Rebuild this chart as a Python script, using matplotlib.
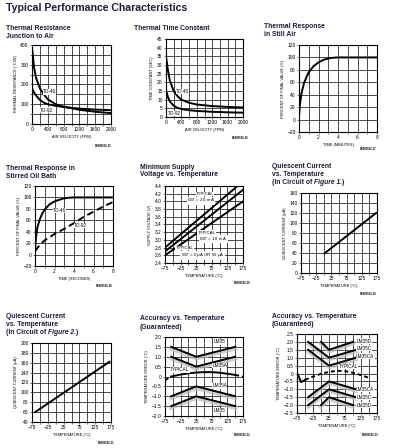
import matplotlib
matplotlib.use('Agg')
import matplotlib.pyplot as plt
import numpy as np

plt.rcParams['font.family'] = ['Liberation Sans', 'DejaVu Sans']
plt.rcParams['axes.unicode_minus'] = True

# ---------------- data ----------------
tr_air = [0, 50, 100, 200, 300, 400, 600, 800, 1000, 1200, 1600, 2000]
tr_to46 = [390, 290, 235, 180, 150, 125, 100, 88, 80, 72, 62, 55]
tr_to92 = [180, 160, 145, 122, 108, 100, 92, 86, 82, 78, 73, 70]

tc_air = [0, 50, 100, 200, 300, 400, 600, 800, 1200, 1600, 2000]
tc_to46 = [35, 27, 21, 15, 12, 10, 8.2, 7.2, 6.3, 5.8, 5.5]
tc_to92 = [15.5, 11.5, 9, 6.5, 5.3, 4.6, 3.9, 3.5, 3.0, 2.7, 2.5]

sa_time = [0, 0.1, 0.25, 0.5, 0.75, 1, 1.5, 2, 2.5, 3, 3.5, 4, 8]
sa_pct = [5, 25, 42, 58, 68, 76, 86, 92, 96, 98.5, 99.5, 100, 100]

ob_time46 = [0, 0.1, 0.25, 0.5, 0.75, 1, 1.5, 2, 2.5, 3, 3.5, 4, 8]
ob_to46 = [8, 30, 48, 62, 72, 79, 88, 93, 96, 98.5, 99.5, 100, 100]
ob_time92 = [0, 0.5, 1, 2, 3, 4, 5, 6, 7, 8]
ob_to92 = [6, 17, 25, 36, 45, 55, 66, 75, 84, 92]

ms_temp = [-75, 175]
ms_2ma = [2.8, 4.52]
ms_1ma = [2.7, 4.3]
ms_0ua = [2.6, 4.0]

qc1_temp = [2, 172]
qc1_ua = [39, 120]

qc2_temp = [-65, 170]
qc2_ua = [60, 162]

acc_temp = [-55, 25, 150]
lm35_up = [1.5, 1.0, 1.5]
lm35a_up = [1.0, 0.5, 1.0]
lm35a_lo = [-1.0, -0.5, -1.0]
lm35_lo = [-1.5, -1.0, -1.5]
typ35_temp = [-55, -25, 0, 25, 50, 75, 100, 125, 150]
typ35_err = [0.0, 0.1, 0.16, 0.2, 0.22, 0.22, 0.19, 0.14, 0.08]
typ35_ext_l_temp = [-75, -55]
typ35_ext_l_err = [-0.18, 0.0]
typ35_ext_r_temp = [150, 175]
typ35_ext_r_err = [0.08, 0.0]

lm35d_temp = [0, 25, 100]
lm35d_up = [2.0, 1.5, 2.0]
lm35d_lo = [-2.0, -1.5, -2.0]
lm35c_temp = [-40, 25, 110]
lm35c_up = [2.0, 1.0, 1.5]
lm35c_lo = [-2.0, -1.0, -1.5]
lm35ca_up = [1.5, 0.5, 1.0]
lm35ca_lo = [-1.5, -0.5, -1.0]
typc_v_temp = [-75, -62, -50]
typc_v_err = [0.05, -0.55, -0.4]
typc_temp = [-50, -25, 0, 25, 50, 75, 100, 125, 150]
typc_err = [-0.4, -0.2, -0.02, 0.1, 0.17, 0.15, 0.05, -0.1, -0.28]

# ---------------- figure ----------------
W, H = 393, 448
fig = plt.figure(figsize=(W / 100, H / 100), dpi=100)
TC = '#1c1c3c'
LW = 1.4
TICK_FS = 3.5
AXL_FS = 2.8
LBL_FS = 3.3


def ax_at(l, t, r, b):
    return fig.add_axes([l / W, 1 - b / H, (r - l) / W, (b - t) / H])


def fmt_num(v, dec):
    if abs(v) < 1e-9:
        return '0'
    s = f'{v:.{dec}f}'
    return s.replace('-', '\u2212')


def setup(ax, xlim, ylim, xgrid, ygrid, xstep, ystep, xlabel, ylabel, xdec=0, ydec=0):
    ax.set_xlim(xlim)
    ax.set_ylim(ylim)
    nx = int(round((xlim[1] - xlim[0]) / xgrid))
    ny = int(round((ylim[1] - ylim[0]) / ygrid))
    xs = [xlim[0] + i * xgrid for i in range(nx + 1)]
    ys = [ylim[0] + i * ygrid for i in range(ny + 1)]
    ax.set_xticks(xs)
    ax.set_yticks(ys)
    ax.set_xticklabels([fmt_num(v, xdec) if abs(((v - xlim[0]) / xstep) - round((v - xlim[0]) / xstep)) < 1e-6 else '' for v in xs])
    ax.set_yticklabels([fmt_num(v, ydec) if abs(((v - ylim[0]) / ystep) - round((v - ylim[0]) / ystep)) < 1e-6 else '' for v in ys])
    ax.tick_params(labelsize=TICK_FS, length=1.2, width=0.4, pad=1.2, colors='black')
    ax.grid(True, color='black', lw=0.5)
    ax.set_axisbelow(True)
    for s in ax.spines.values():
        s.set_linewidth(0.8)
    ax.set_xlabel(xlabel, fontsize=AXL_FS, labelpad=2)
    ax.set_ylabel(ylabel, fontsize=AXL_FS, labelpad=2)


def lbl(ax, x, y, s, ha='center', fs=LBL_FS):
    ax.text(x, y, s, fontsize=fs, ha=ha, va='center', zorder=6,
            bbox=dict(fc='white', ec='none', pad=0.2))


def title(x, y, s, **kw):
    return fig.text(x / W, 1 - y / H, s, fontsize=4.9, fontweight='bold', color=TC,
                    ha='left', va='center', **kw)


def code(xr, y, s):
    fig.text(xr / W, 1 - y / H, s, fontsize=2.0, fontweight='bold', ha='right', va='center')


fig.text(6 / W, 1 - 8 / H, 'Typical Performance Characteristics', fontsize=7.6,
         fontweight='bold', color=TC, ha='left', va='center')

# Panel 1
ax = ax_at(32, 45, 111, 124)
setup(ax, (0, 2000), (0, 400), 200, 50, 400, 100, 'AIR VELOCITY (FPM)', 'THERMAL RESISTANCE (\u00b0C/W)')
ax.plot(tr_air, tr_to46, color='black', lw=LW)
ax.plot(tr_air, tr_to92, color='black', lw=LW)
lbl(ax, 440, 163, 'TO-46')
lbl(ax, 370, 70, 'TO-92')
title(6, 28, 'Thermal Resistance')
title(6, 36, 'Junction to Air')
code(111, 146, 'DS005516-25')

# Panel 2
ax = ax_at(166, 39, 243, 117)
setup(ax, (0, 2000), (0, 45), 200, 5, 400, 5, 'AIR VELOCITY (FPM)', 'TIME CONSTANT (SEC)')
ax.plot(tc_air, tc_to46, color='black', lw=LW)
ax.plot(tc_air, tc_to92, color='black', lw=LW)
lbl(ax, 430, 14.6, 'TO-46')
lbl(ax, 220, 2.0, 'TO-92')
title(134, 29, 'Thermal Time Constant')
code(248, 138, 'DS005516-26')

# Panel 3
ax = ax_at(299, 45, 377, 132)
setup(ax, (0, 8), (-20, 120), 1, 20, 2, 20, 'TIME (MINUTES)', 'PERCENT OF FINAL VALUE (%)')
ax.plot(sa_time, sa_pct, color='black', lw=LW)
title(264, 27, 'Thermal Response')
title(264, 35, 'in Still Air')
code(377, 149, 'DS005516-27')

# Panel 4
ax = ax_at(35, 186, 113, 266)
setup(ax, (0, 8), (-20, 120), 1, 20, 2, 20, 'TIME (SECONDS)', 'PERCENT OF FINAL VALUE (%)')
ax.plot(ob_time46, ob_to46, color='black', lw=LW)
ax.plot(ob_time92, ob_to92, color='black', lw=LW, dashes=(3.5, 2))
lbl(ax, 2.5, 77, 'TO-46')
lbl(ax, 4.7, 51, 'TO-92')
title(6, 169, 'Thermal Response in')
title(6, 177, 'Stirred Oil Bath')
code(113, 286, 'DS005516-28')

# Panel 5
ax = ax_at(165, 186, 243, 263)
setup(ax, (-75, 175), (2.4, 4.4), 25, 0.2, 50, 0.2, 'TEMPERATURE (\u00b0C)', 'SUPPLY VOLTAGE (V)', 0, 1)
ax.plot(ms_temp, ms_2ma, color='black', lw=LW)
ax.plot(ms_temp, ms_1ma, color='black', lw=LW)
ax.plot(ms_temp, ms_0ua, color='black', lw=LW)
lbl(ax, 53, 4.19, 'TYPICAL', fs=3.1)
lbl(ax, 40, 4.02, r'I$_{\mathrm{OUT}}$ = 2.0 mA', fs=3.1)
lbl(ax, 58, 3.19, 'TYPICAL', fs=3.1)
lbl(ax, 80, 3.02, r'I$_{\mathrm{OUT}}$ = 1.0 mA', fs=3.1)
lbl(ax, -12, 2.79, 'TYPICAL', fs=3.1)
lbl(ax, 45, 2.6, r'I$_{\mathrm{OUT}}$ = 0 $\mu$A OR 50 $\mu$A', fs=3.1)
title(140, 167, 'Minimum Supply')
title(140, 175, 'Voltage vs. Temperature')
code(250, 283, 'DS005516-29')

# Panel 6
ax = ax_at(301, 193, 377, 273)
setup(ax, (-75, 175), (0, 160), 25, 20, 50, 20, 'TEMPERATURE (\u00b0C)', 'QUIESCENT CURRENT (\u00b5A)')
ax.plot(qc1_temp, qc1_ua, color='black', lw=LW)
title(272, 166, 'Quiescent Current')
title(272, 174, 'vs. Temperature')
code(377, 294, 'DS005516-30')

# Panel 7
ax = ax_at(32, 343, 111, 422)
setup(ax, (-75, 175), (40, 200), 25, 20, 50, 20, 'TEMPERATURE (\u00b0C)', 'QUIESCENT CURRENT (\u00b5A)')
ax.plot(qc2_temp, qc2_ua, color='black', lw=LW)
title(6, 316, 'Quiescent Current')
title(6, 324, 'vs. Temperature')
code(115, 443, 'DS005516-31')

# Panel 8
ax = ax_at(165, 337, 243, 416)
setup(ax, (-75, 175), (-2.0, 2.0), 25, 0.5, 50, 0.5, 'TEMPERATURE (\u00b0C)', 'TEMPERATURE ERROR (\u00b0C)', 0, 1)
for yy in (lm35_up, lm35a_up, lm35a_lo, lm35_lo):
    ax.plot(acc_temp, [v - 0.09 for v in yy], color='#bdbdbd', lw=3.0, alpha=0.7, zorder=2)
    ax.plot(acc_temp, yy, color='black', lw=LW, zorder=3)
ax.plot(typ35_temp, typ35_err, color='black', lw=LW, zorder=3)
ax.plot(typ35_ext_l_temp, typ35_ext_l_err, color='black', lw=LW, dashes=(2, 1.5), zorder=3)
ax.plot(typ35_ext_r_temp, typ35_ext_r_err, color='black', lw=LW, dashes=(2, 1.5), zorder=3)
lbl(ax, 100, 1.75, 'LM35')
lbl(ax, 100, 0.55, 'LM35A')
lbl(ax, -28, 0.34, 'TYPICAL')
lbl(ax, 100, -0.48, 'LM35A')
lbl(ax, 100, -1.72, 'LM35')
title(140, 318, 'Accuracy vs. Temperature')
title(140, 327, '(Guaranteed)')
code(250, 435, 'DS005516-32')

# Panel 9
ax = ax_at(297, 334, 377, 413)
setup(ax, (-75, 175), (-2.5, 2.5), 25, 0.5, 50, 0.5, 'TEMPERATURE (\u00b0C)', 'TEMPERATURE ERROR (\u00b0C)', 0, 1)
for tt, yy in ((lm35d_temp, lm35d_up), (lm35c_temp, lm35c_up), (lm35c_temp, lm35ca_up),
               (lm35c_temp, lm35ca_lo), (lm35c_temp, lm35c_lo), (lm35d_temp, lm35d_lo)):
    ax.plot(tt, [v - 0.1 for v in yy], color='#bdbdbd', lw=3.0, alpha=0.7, zorder=2)
    ax.plot(tt, yy, color='black', lw=LW, zorder=3)
ax.plot(typc_v_temp, typc_v_err, color='black', lw=LW, zorder=3)
ax.plot(typc_temp, typc_err, color='black', lw=LW, dashes=(2, 1.5), zorder=3)
lbl(ax, 135, 2.05, 'LM35D')
lbl(ax, 135, 1.6, 'LM35C')
lbl(ax, 138, 1.1, 'LM35CA')
lbl(ax, 85, 0.45, 'TYPICAL')
lbl(ax, 138, -1.02, 'LM35CA')
lbl(ax, 135, -1.5, 'LM35C')
lbl(ax, 135, -2.0, 'LM35D')
title(272, 316, 'Accuracy vs. Temperature')
title(272, 324, '(Guaranteed)')
code(378, 435, 'DS005516-33')

# rich titles with italic figure references
renderer = fig.canvas.get_renderer()


def rich(x, y, parts):
    cx = x
    for s, st in parts:
        t = title(cx, y, s, style=st)
        w = t.get_window_extent(renderer).width
        cx += w


rich(272, 182, [('(In Circuit of ', 'normal'), ('Figure 1.', 'italic'), (')', 'normal')])
rich(6, 332, [('(In Circuit of ', 'normal'), ('Figure 2.', 'italic'), (')', 'normal')])

fig.savefig('out.png', dpi=100)
